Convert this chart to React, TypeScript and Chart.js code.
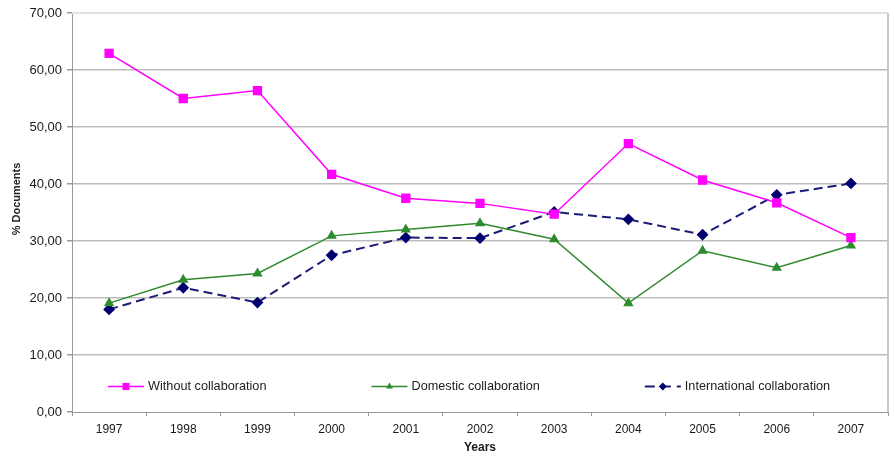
import React, { useEffect, useRef } from "react";
import { Chart, registerables } from "chart.js";

Chart.register(...registerables);

const years = ["1997", "1998", "1999", "2000", "2001", "2002", "2003", "2004", "2005", "2006", "2007"];
const withoutCollab = [62.9, 55.0, 56.4, 41.7, 37.5, 36.6, 34.7, 47.1, 40.7, 36.7, 30.6];
const domesticCollab = [19.1, 23.2, 24.3, 30.9, 32.0, 33.1, 30.3, 19.1, 28.3, 25.3, 29.2];
const internationalCollab = [18.0, 21.8, 19.2, 27.5, 30.6, 30.5, 35.1, 33.8, 31.1, 38.1, 40.1];
const seriesNames = ["Without collaboration", "Domestic collaboration", "International collaboration"];

const FONT = "'Liberation Sans', Arial, sans-serif";

function drawMarker(ctx: CanvasRenderingContext2D, style: string, x: number, y: number, r: number, color: string) {
  ctx.save();
  ctx.fillStyle = color;
  ctx.beginPath();
  if (style === "rect") {
    const h = r * Math.SQRT1_2;
    ctx.rect(x - h, y - h, 2 * h, 2 * h);
  } else if (style === "triangle") {
    ctx.moveTo(x, y - r);
    ctx.lineTo(x + r * 0.866, y + r * 0.5);
    ctx.lineTo(x - r * 0.866, y + r * 0.5);
    ctx.closePath();
  } else {
    ctx.moveTo(x, y - r);
    ctx.lineTo(x + r, y);
    ctx.lineTo(x, y + r);
    ctx.lineTo(x - r, y);
    ctx.closePath();
  }
  ctx.fill();
  ctx.restore();
}

// Plot frame (light top/right border), rotated y title and the in-plot legend
const framePlugin = {
  id: "frame",
  beforeDatasetsDraw(chart: any) {
    const { ctx, chartArea } = chart;
    ctx.save();
    ctx.lineWidth = 2;
    ctx.strokeStyle = "#e2e2e2";
    ctx.beginPath();
    ctx.moveTo(chartArea.left, chartArea.top);
    ctx.lineTo(chartArea.right, chartArea.top);
    ctx.stroke();
    ctx.strokeStyle = "#c8c8c8";
    ctx.beginPath();
    ctx.moveTo(chartArea.right, chartArea.top);
    ctx.lineTo(chartArea.right, chartArea.bottom);
    ctx.stroke();
    ctx.restore();
  },
  afterDraw(chart: any) {
    const { ctx } = chart;
    ctx.save();
    // y-axis title
    ctx.translate(17, 199);
    ctx.rotate(-Math.PI / 2);
    ctx.font = `bold 11px ${FONT}`;
    ctx.fillStyle = "#222";
    ctx.textAlign = "center";
    ctx.textBaseline = "middle";
    ctx.fillText("% Documents", 0, 0);
    ctx.restore();

    // legend inside the plot area
    ctx.save();
    ctx.font = `12.7px ${FONT}`;
    const sample = 36;
    const gapText = 4;
    const gapItem = 105;
    let x = 108;
    const y = 386.5;
    chart.data.datasets.forEach((d: any) => {
      ctx.save();
      ctx.strokeStyle = d.borderColor;
      ctx.lineWidth = d.borderWidth;
      ctx.setLineDash(d.borderDash ? [10, 6] : []);
      ctx.beginPath();
      ctx.moveTo(x, y);
      ctx.lineTo(x + sample, y);
      ctx.stroke();
      ctx.restore();
      drawMarker(ctx, d.pointStyle, x + sample / 2, y, d.pointRadius - 0.5, d.pointBackgroundColor);
      ctx.fillStyle = "#222";
      ctx.textBaseline = "middle";
      ctx.textAlign = "left";
      const tx = x + sample + gapText;
      ctx.fillText(d.label, tx, y);
      x = tx + ctx.measureText(d.label).width + gapItem;
    });
    ctx.restore();
  },
};

export default function App() {
  const canvasRef = useRef<HTMLCanvasElement | null>(null);

  useEffect(() => {
    document.body.style.margin = "0";
    const canvas = canvasRef.current;
    if (!canvas) return;
    const chart = new Chart(canvas, {
      type: "line",
      data: {
        labels: years,
        datasets: [
          {
            label: seriesNames[0],
            data: withoutCollab,
            borderColor: "#ff00ff",
            borderWidth: 1.5,
            pointStyle: "rect",
            pointRadius: 5.5,
            pointBackgroundColor: "#ff00ff",
            pointBorderColor: "#ff00ff",
            tension: 0,
          },
          {
            label: seriesNames[1],
            data: domesticCollab,
            borderColor: "#2e8b2e",
            borderWidth: 1.5,
            pointStyle: "triangle",
            pointRadius: 4.5,
            pointBackgroundColor: "#2e8b2e",
            pointBorderColor: "#2e8b2e",
            tension: 0,
          },
          {
            label: seriesNames[2],
            data: internationalCollab,
            borderColor: "#1c1c78",
            borderWidth: 2,
            borderDash: [9, 5],
            pointStyle: "rectRot",
            pointRadius: 4.5,
            pointBackgroundColor: "#000070",
            pointBorderColor: "#000070",
            tension: 0,
          },
        ],
      },
      options: {
        responsive: false,
        animation: false,
        layout: { padding: { top: 13, right: 3, left: 0, bottom: 0 } },
        plugins: {
          legend: { display: false },
          tooltip: { enabled: false },
        },
        scales: {
          x: {
            type: "category",
            offset: true,
            afterFit: (s: any) => {
              s.height = 44;
            },
            grid: {
              offset: true,
              drawOnChartArea: false,
              tickLength: 4,
              tickColor: "#9a9a9a",
            },
            border: { color: "#9a9a9a", width: 1 },
            ticks: {
              color: "#1a1a1a",
              font: { family: FONT, size: 12 },
              padding: 6,
              maxRotation: 0,
            },
            title: {
              display: true,
              text: "Years",
              color: "#1a1a1a",
              font: { family: FONT, size: 12, weight: "bold" },
              padding: { top: 0, bottom: 1 },
            },
          },
          y: {
            min: 0,
            max: 70,
            afterFit: (s: any) => {
              s.width = 72;
            },
            grid: {
              color: (c: any) => (c.tick && (c.tick.value === 70 || c.tick.value === 0) ? "rgba(0,0,0,0)" : "#bdbdbd"),
              lineWidth: 1.5,
              tickLength: 5,
              tickColor: "#9a9a9a",
            },
            border: { color: "#9a9a9a", width: 1 },
            ticks: {
              stepSize: 10,
              color: "#1a1a1a",
              font: { family: FONT, size: 13 },
              padding: 5,
              callback: (v: any) => Number(v).toFixed(2).replace(".", ","),
            },
          },
        },
      },
      plugins: [framePlugin],
    });
    return () => chart.destroy();
  }, []);

  return (
    <div style={{ width: 895, height: 456, background: "#fff" }}>
      <canvas ref={canvasRef} width={895} height={456} />
    </div>
  );
}
